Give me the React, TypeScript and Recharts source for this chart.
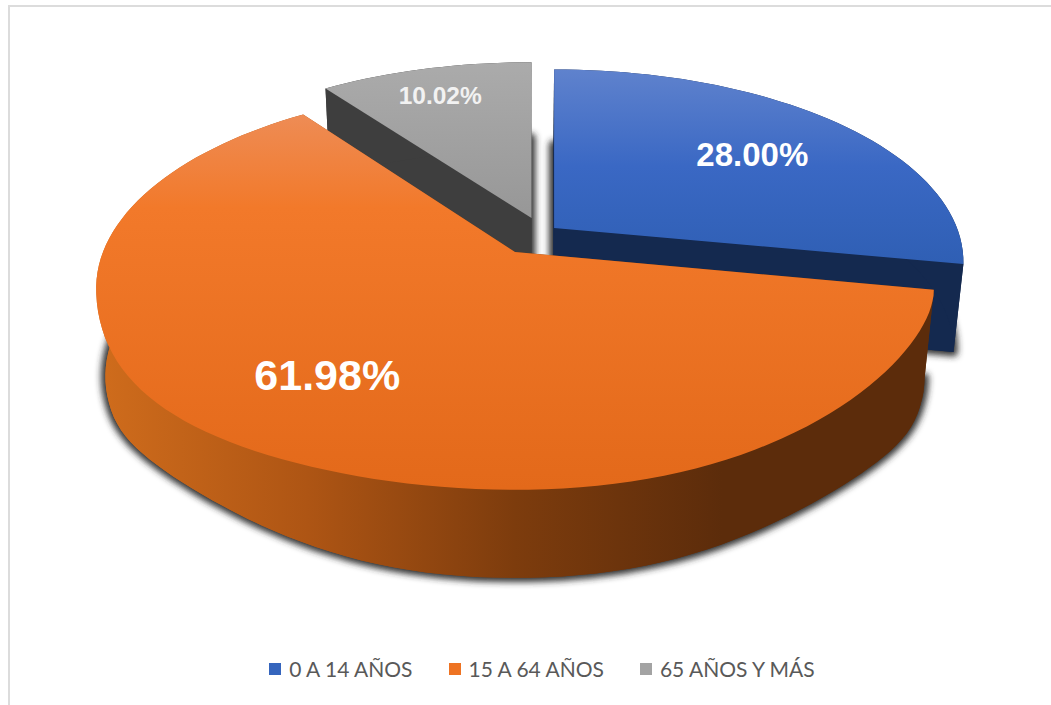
import { Cell, Legend, Pie, PieChart } from "recharts"

const categories = ["0 A 14 AÑOS", "15 A 64 AÑOS", "65 AÑOS Y MÁS"]
const shares = [28.0, 61.98, 10.02]

const data = categories.map((name, i) => ({ name, value: shares[i] }))

const swatches = ["#3565bd", "#ee7322", "#a3a3a3"]
const topFills = ["url(#topBlue)", "url(#topOrange)", "url(#topGray)"]
const wallFills = ["#14294f", "url(#wallOrange)", "#3e3e3e"]
const explode = [
  [0.095, -0.126],
  [0, 0],
  [0.04, -0.18],
]
const labelRadius = [0.68, 0.7, 0.8]
const labelShift = [
  [2, 2],
  [-15, -11],
  [-4, 0],
]
const labelSize = [33, 43, 24.5]
const labelColor = ["#ffffff", "#ffffff", "#f2f2f2"]

const CX = 515
const CY = 252
const RADIUS = 412
// perspective of the tilted disc
const SQUASH = 195 / RADIUS
const PERSP = 0.18
const DEPTH = 88
const BOTTOM_SCALE = 0.978
const TOP_TWIST = 0.18
const BOTTOM_LIFT = 0.26

// u, v are on the unit disc, du slides the slice sideways without perspective
function project(u: number, v: number, du: number, cx: number, cy: number, r: number) {
  const s = 1 / (1 - PERSP * v)
  const x = r * du + r * u * s
  // the front of the source pie leans a little: lower on the left, higher on the right
  const twist = v > 0.2 && v < 1 ? TOP_TWIST * (v - 0.2) * (1 - v) * x : 0
  return [cx + x, cy + r * SQUASH * v * s - twist]
}

// same disc, one pie depth lower and slightly narrower
function projectBottom(u: number, v: number, du: number, cx: number, cy: number, r: number) {
  const s = 1 / (1 - PERSP * v)
  const x = r * du + r * u * s
  const w = (v - 0.35) / 0.65
  const lift = w > 0 && w < 1 ? BOTTOM_LIFT * w * w * (1 - w) * Math.abs(x) : 0
  return [cx + x * BOTTOM_SCALE, cy + r * SQUASH * v * s + DEPTH - lift]
}

function toPath(points: number[][]) {
  return "M" + points.map((p) => `${p[0].toFixed(1)},${p[1].toFixed(1)}`).join("L") + "Z"
}

function facePoints(props: any, index: number) {
  const { cx, cy, outerRadius, startAngle, endAngle } = props
  const [du, dv] = explode[index]
  const steps = Math.max(8, Math.ceil(Math.abs(endAngle - startAngle) / 2))
  const arc: number[][] = []
  const bottomArc: number[][] = []
  for (let i = 0; i <= steps; i++) {
    const a = ((startAngle + ((endAngle - startAngle) * i) / steps) * Math.PI) / 180
    arc.push(project(Math.cos(a), -Math.sin(a) + dv, du, cx, cy, outerRadius))
    bottomArc.push(projectBottom(Math.cos(a), -Math.sin(a) + dv, du, cx, cy, outerRadius))
  }
  return {
    apex: project(0, dv, du, cx, cy, outerRadius),
    bottomApex: projectBottom(0, dv, du, cx, cy, outerRadius),
    arc,
    bottomArc,
  }
}

function makeSlice(pass: "shadow" | number) {
  return (props: any) => {
    const index = props.index as number
    const { apex, arc, bottomApex, bottomArc } = facePoints(props, index)
    if (pass === "shadow") {
      // shadow reaches further up than down
      const pts = [bottomApex, ...bottomArc].map((p) => {
        const dy = p[1] - bottomApex[1]
        return [p[0], bottomApex[1] + dy * (dy < 0 ? 1.08 : 1.0)]
      })
      return (
        <path
          d={toPath(pts)}
          fill="#2b2b2b"
          stroke="#2b2b2b"
          strokeWidth={9}
          strokeLinejoin="round"
          fillOpacity={0.9}
          strokeOpacity={0.9}
          filter="url(#pieShadow)"
        />
      )
    }
    if (pass !== index) return <g />
    return (
      <g>
        <path d={toPath([bottomApex, ...bottomArc])} fill={wallFills[index]} />
        <path d={toPath([apex, arc[0], bottomArc[0], bottomApex])} fill={wallFills[index]} />
        <path d={toPath([apex, arc[arc.length - 1], bottomArc[bottomArc.length - 1], bottomApex])} fill={wallFills[index]} />
        <path d={toPath([...arc, ...[...bottomArc].reverse()])} fill={wallFills[index]} />
        <path d={toPath([apex, ...arc])} fill={topFills[index]} />
      </g>
    )
  }
}

function renderLabel(props: any) {
  const { cx, cy, outerRadius, midAngle, index } = props
  const a = (midAngle * Math.PI) / 180
  const [du, dv] = explode[index]
  const r = labelRadius[index]
  const [x, y] = project(r * Math.cos(a), -r * Math.sin(a) + dv, du, cx, cy, outerRadius)
  return (
    <text
      x={x + labelShift[index][0]}
      y={y + labelShift[index][1]}
      textAnchor="middle"
      dominantBaseline="central"
      fill={labelColor[index]}
      fontFamily="'Liberation Sans', Arial, sans-serif"
      fontWeight="bold"
      fontSize={labelSize[index]}
    >
      {shares[index].toFixed(2)}%
    </text>
  )
}

function LegendRow() {
  return (
    <div style={{ display: "flex", justifyContent: "center", gap: 36, paddingLeft: 33 }}>
      {categories.map((name, i) => (
        <div key={name} style={{ display: "flex", alignItems: "center", gap: 8 }}>
          <span style={{ width: 12, height: 12, background: swatches[i], display: "inline-block" }} />
          <span style={{ fontFamily: "Lato, sans-serif", fontSize: 21, color: "#595959" }}>{name}</span>
        </div>
      ))}
    </div>
  )
}

const passes: ("shadow" | number)[] = ["shadow", 2, 0, 1]

export default function App() {
  return (
    <div style={{ position: "absolute", left: 0, top: 0, width: 1051, height: 705, overflow: "hidden", background: "#fff" }}>
      <div style={{ position: "absolute", left: 8, top: 5, right: 0, bottom: 0, borderLeft: "2px solid #dcdcdc", borderTop: "2px solid #dcdcdc" }} />
      <PieChart width={1051} height={705} margin={{ top: 0, right: 0, bottom: 0, left: 0 }} style={{ position: "absolute", left: 0, top: 0 }}>
        <defs>
          <linearGradient id="topOrange" x1="0" y1="0" x2="0" y2="1">
            <stop offset="0" stopColor="#ee8c55" />
            <stop offset="0.25" stopColor="#f2792a" />
            <stop offset="1" stopColor="#e3691a" />
          </linearGradient>
          <linearGradient id="topBlue" x1="0" y1="0" x2="0" y2="1">
            <stop offset="0" stopColor="#5f82cd" />
            <stop offset="0.5" stopColor="#3a68c4" />
            <stop offset="1" stopColor="#2f5fb4" />
          </linearGradient>
          <linearGradient id="topGray" x1="0" y1="0" x2="0" y2="1">
            <stop offset="0" stopColor="#ababab" />
            <stop offset="1" stopColor="#979797" />
          </linearGradient>
          <linearGradient id="wallOrange" gradientUnits="userSpaceOnUse" x1="100" y1="0" x2="930" y2="0">
            <stop offset="0" stopColor="#cf6c1c" />
            <stop offset="0.25" stopColor="#ae5514" />
            <stop offset="0.5" stopColor="#7d3c0d" />
            <stop offset="0.75" stopColor="#5c2c0b" />
            <stop offset="1" stopColor="#5c2c0b" />
          </linearGradient>
          <filter id="pieShadow" x="-10%" y="-10%" width="120%" height="120%">
            <feGaussianBlur stdDeviation="3" />
          </filter>
        </defs>
        {passes.map((pass, i) => (
          <Pie
            key={String(pass)}
            data={data}
            dataKey="value"
            nameKey="name"
            cx={CX}
            cy={CY}
            innerRadius={0}
            outerRadius={RADIUS}
            startAngle={90}
            endAngle={-270}
            stroke="none"
            isAnimationActive={false}
            legendType={i === 0 ? "square" : "none"}
            shape={makeSlice(pass)}
            labelLine={false}
            label={i === passes.length - 1 ? renderLabel : false}
          >
            {categories.map((name, j) => (
              <Cell key={name} fill={swatches[j]} />
            ))}
          </Pie>
        ))}
        <Legend
          layout="horizontal"
          verticalAlign="bottom"
          align="center"
          wrapperStyle={{ top: 656, left: 0, width: 1051, height: 30 }}
          content={() => <LegendRow />}
        />
      </PieChart>
    </div>
  )
}
